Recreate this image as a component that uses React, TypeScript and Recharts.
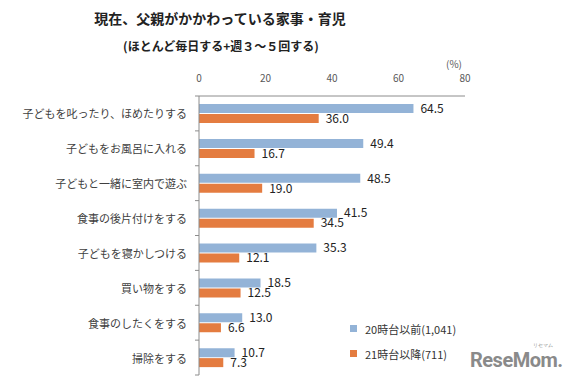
import React from 'react';
import { BarChart, Bar, XAxis, YAxis, LabelList } from 'recharts';

const categories = [
  '子どもを叱ったり、ほめたりする',
  '子どもをお風呂に入れる',
  '子どもと一緒に室内で遊ぶ',
  '食事の後片付けをする',
  '子どもを寝かしつける',
  '買い物をする',
  '食事のしたくをする',
  '掃除をする',
];
const before20 = [64.5, 49.4, 48.5, 41.5, 35.3, 18.5, 13.0, 10.7];
const after21 = [36.0, 16.7, 19.0, 34.5, 12.1, 12.5, 6.6, 7.3];
const xTicks = [0, 20, 40, 60, 80];

const SERIES = [
  { key: 'before', name: '20時台以前(1,041)', color: '#93B3D7' },
  { key: 'after', name: '21時台以降(711)', color: '#E47C40' },
];

const data = categories.map((name, i) => ({ name, before: before20[i], after: after21[i] }));

const FONT = '"Noto Sans CJK JP", "Noto Sans", sans-serif';
const AXIS_X = 199;

const CatTick = (props: any) => {
  const { x, y, payload, index } = props;
  const half = payload && payload.offset ? payload.offset : 17.5;
  return (
    <g>
      <text x={x} y={y} textAnchor="end" dominantBaseline="central" fontSize={11} fill="#404040" fontFamily={FONT}>
        {payload.value}
      </text>
      <line x1={AXIS_X - 4} x2={AXIS_X} y1={y - half} y2={y - half} stroke="#8c8c8c" />
      {index === categories.length - 1 && (
        <line x1={AXIS_X - 4} x2={AXIS_X} y1={y + half} y2={y + half} stroke="#8c8c8c" />
      )}
    </g>
  );
};

const fmt = (v: any) => Number(v).toFixed(1);

export default function App() {
  return (
    <div style={{ position: 'absolute', left: 0, top: 0, width: 579, height: 389, background: '#fff', fontFamily: FONT }}>
      <div style={{ position: 'absolute', left: 0, top: 8, width: 440, textAlign: 'center', fontSize: 14, fontWeight: 700, color: '#222' }}>
        現在、父親がかかわっている家事・育児
      </div>
      <div style={{ position: 'absolute', left: 0, top: 37, width: 442, textAlign: 'center', fontSize: 12, fontWeight: 700, color: '#222' }}>
        (ほとんど毎日する+週３～５回する)
      </div>
      <div style={{ position: 'absolute', left: 446, top: 56, fontSize: 10, color: '#595959' }}>(%)</div>
      <BarChart
        width={579}
        height={389}
        data={data}
        layout="vertical"
        margin={{ top: 76, right: 114, bottom: 14, left: 0 }}
        barSize={9}
        barGap={1}
        style={{ position: 'absolute', left: 0, top: 0 }}
      >
        <XAxis
          type="number"
          orientation="top"
          domain={[0, 80]}
          ticks={xTicks}
          axisLine={{ stroke: '#8c8c8c' }}
          tickLine={false}
          tick={{ fontSize: 10, fill: '#595959', fontFamily: FONT }}
          tickMargin={8}
          height={20}
        />
        <YAxis
          type="category"
          dataKey="name"
          width={AXIS_X}
          axisLine={{ stroke: '#8c8c8c' }}
          tickLine={false}
          tickSize={0}
          tickMargin={12}
          tick={<CatTick />}
          interval={0}
        />
        {SERIES.map((s) => (
          <Bar key={s.key} dataKey={s.key} name={s.name} fill={s.color} isAnimationActive={false}>
            <LabelList dataKey={s.key} position="right" offset={7} formatter={fmt} fontSize={12} fill="#222" fontFamily={FONT} />
          </Bar>
        ))}
      </BarChart>
      <div style={{ position: 'absolute', left: 350, top: 316, fontSize: 11, color: '#333' }}>
        {SERIES.map((s) => (
          <div key={s.key} style={{ display: 'flex', alignItems: 'center', height: 25 }}>
            <span style={{ display: 'inline-block', width: 7, height: 7, background: s.color, marginRight: 8 }} />
            {s.name}
          </div>
        ))}
      </div>
      <div style={{ position: 'absolute', left: 470, top: 342, color: '#8a8a8a', fontFamily: 'Roboto, sans-serif' }}>
        <div style={{ fontSize: 5, textAlign: 'right', paddingRight: 10, lineHeight: '7px' }}>リセマム</div>
        <div style={{ fontSize: 20, fontWeight: 700, lineHeight: '22px', letterSpacing: -0.5 }}>ReseMom.</div>
      </div>
    </div>
  );
}
